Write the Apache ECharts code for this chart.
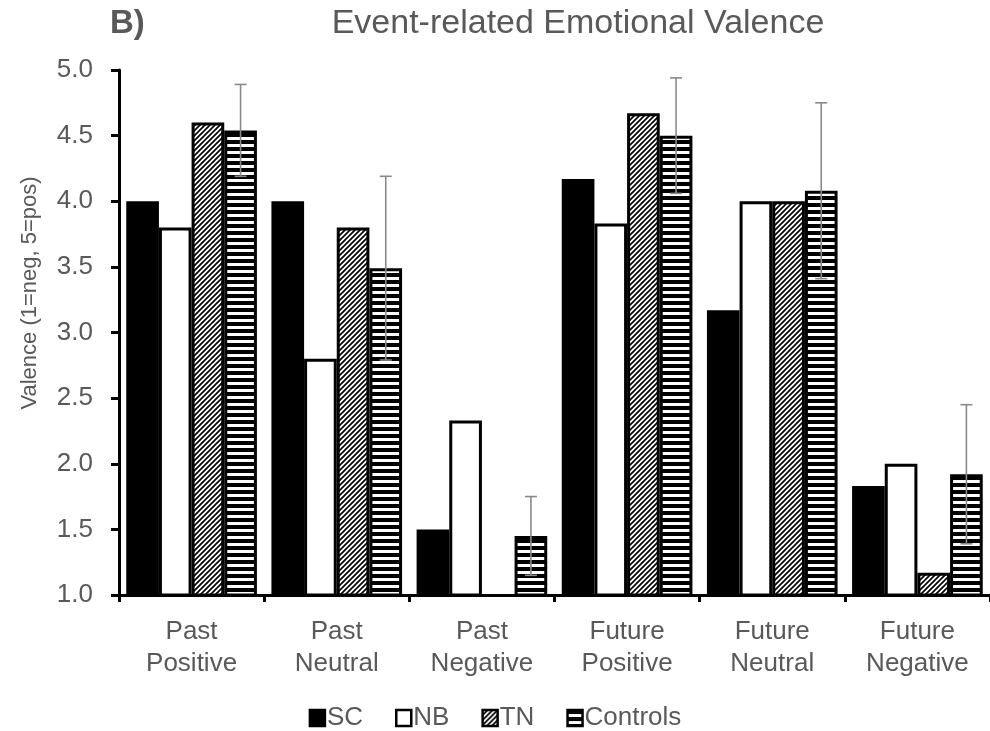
<!DOCTYPE html>
<html>
<head>
<meta charset="utf-8">
<script src="https://cdn.jsdelivr.net/npm/echarts@6/dist/echarts.min.js"></script>
<style>
  html, body { margin: 0; padding: 0; background: #fff; }
  #chart { width: 990px; height: 731px; }
</style>
</head>
<body>
<div id="chart"></div>
<script>
// Group conditions (x axis)
const categories = ['Past\nPositive', 'Past\nNeutral', 'Past\nNegative', 'Future\nPositive', 'Future\nNeutral', 'Future\nNegative'];
// Mean valence per group
const scValues = [4.0, 4.0, 1.5, 4.17, 3.17, 1.83];
const nbValues = [3.8, 2.8, 2.33, 3.83, 4.0, 2.0];
const tnValues = [4.6, 3.8, 1.0, 4.67, 4.0, 1.17];
const controlValues = [4.54, 3.49, 1.45, 4.5, 4.08, 1.92];
// Standard error for the control group
const controlErrors = [0.35, 0.70, 0.30, 0.44, 0.67, 0.53];
const seriesNames = ['SC', 'NB', 'TN', 'Controls'];
const yTicks = [1.0, 1.5, 2.0, 2.5, 3.0, 3.5, 4.0, 4.5, 5.0];

const FONT = "'Liberation Sans', Arial, sans-serif";
const TEXT = '#595959';

// Diagonal hatch fill
function diagonalPattern() {
  const c = document.createElement('canvas');
  c.width = 5; c.height = 5;
  const g = c.getContext('2d');
  g.fillStyle = '#fff'; g.fillRect(0, 0, 5, 5);
  g.strokeStyle = '#000'; g.lineWidth = 1.7;
  g.beginPath();
  g.moveTo(0, 5); g.lineTo(5, 0);
  g.moveTo(-1, 1); g.lineTo(1, -1);
  g.moveTo(4, 6); g.lineTo(6, 4);
  g.stroke();
  return c;
}
// Horizontal stripe fill
function stripePattern() {
  const c = document.createElement('canvas');
  c.width = 4; c.height = 7;
  const g = c.getContext('2d');
  g.fillStyle = '#fff'; g.fillRect(0, 0, 4, 7);
  g.fillStyle = '#000'; g.fillRect(0, 0, 4, 4);
  return c;
}

const fills = [
  '#000',
  '#fff',
  { image: diagonalPattern(), repeat: 'repeat' },
  { image: stripePattern(), repeat: 'repeat' }
];
const valueSets = [scValues, nbValues, tnValues, controlValues];

const barSeries = seriesNames.map((name, i) => ({
  name: name,
  type: 'bar',
  data: valueSets[i],
  barGap: '0%',
  barCategoryGap: '10%',
  itemStyle: { color: fills[i], borderColor: '#000', borderWidth: 3 },
  z: 2
}));

const errorSeries = {
  type: 'custom',
  name: 'err',
  z: 5,
  data: controlValues.map((v, i) => [i, v, controlErrors[i]]),
  encode: { x: 0, y: 1 },
  renderItem: function (params, api) {
    const idx = api.value(0), v = api.value(1), e = api.value(2);
    const bandW = api.size([1, 0])[0];
    const x = api.coord([idx, v])[0] + bandW * 0.3375;
    const hi = api.coord([idx, v + e])[1];
    const lo = api.coord([idx, v - e])[1];
    const cap = 6;
    const style = { stroke: '#8a8a8a', lineWidth: 1.6 };
    return {
      type: 'group',
      children: [
        { type: 'line', shape: { x1: x, y1: hi, x2: x, y2: lo }, style: style },
        { type: 'line', shape: { x1: x - cap, y1: hi, x2: x + cap, y2: hi }, style: style },
        { type: 'line', shape: { x1: x - cap, y1: lo, x2: x + cap, y2: lo }, style: style }
      ]
    };
  }
};

const chart = echarts.init(document.getElementById('chart'), null, { renderer: 'canvas' });
chart.setOption({
  animation: false,
  backgroundColor: '#fff',
  textStyle: { fontFamily: FONT },
  title: [
    {
      text: 'Event-related Emotional Valence',
      left: 578, top: 7, padding: 0, textAlign: 'center',
      textStyle: { fontFamily: FONT, fontSize: 34, fontWeight: 'normal', color: TEXT }
    },
    {
      text: 'B)',
      left: 110, top: 7, padding: 0,
      textStyle: { fontFamily: FONT, fontSize: 33, fontWeight: 'bold', color: TEXT }
    }
  ],
  graphic: [
    {
      type: 'text', x: 30, y: 293, rotation: Math.PI / 2,
      style: {
        text: 'Valence (1=neg, 5=pos)', fill: TEXT, font: '22px ' + FONT,
        align: 'center', verticalAlign: 'middle'
      }
    }
  ],
  legend: {
    data: seriesNames,
    left: 'center',
    top: 700,
    icon: 'rect',
    itemWidth: 15,
    itemHeight: 16,
    itemGap: 32,
    itemStyle: { borderWidth: 2.5, borderColor: '#000' },
    textStyle: { fontFamily: FONT, fontSize: 26, color: TEXT, padding: [0, 0, 0, -3] }
  },
  grid: { left: 119, top: 70, width: 878, bottom: 136, containLabel: false },
  xAxis: {
    type: 'category',
    data: categories,
    axisLine: { lineStyle: { color: '#000', width: 3 } },
    axisTick: { show: true, length: 7, lineStyle: { color: '#000', width: 3 } },
    axisLabel: { color: TEXT, fontSize: 26, lineHeight: 32, margin: 21, fontFamily: FONT, interval: 0 },
    splitLine: { show: false }
  },
  yAxis: {
    type: 'value',
    min: yTicks[0],
    max: yTicks[yTicks.length - 1],
    interval: 0.5,
    axisLine: { show: true, lineStyle: { color: '#000', width: 3 } },
    axisTick: { show: true, length: 8, lineStyle: { color: '#000', width: 3 } },
    axisLabel: {
      color: TEXT, fontSize: 26, margin: 26, fontFamily: FONT,
      formatter: v => v.toFixed(1)
    },
    splitLine: { show: false }
  },
  series: [...barSeries, errorSeries]
});
</script>
</body>
</html>
